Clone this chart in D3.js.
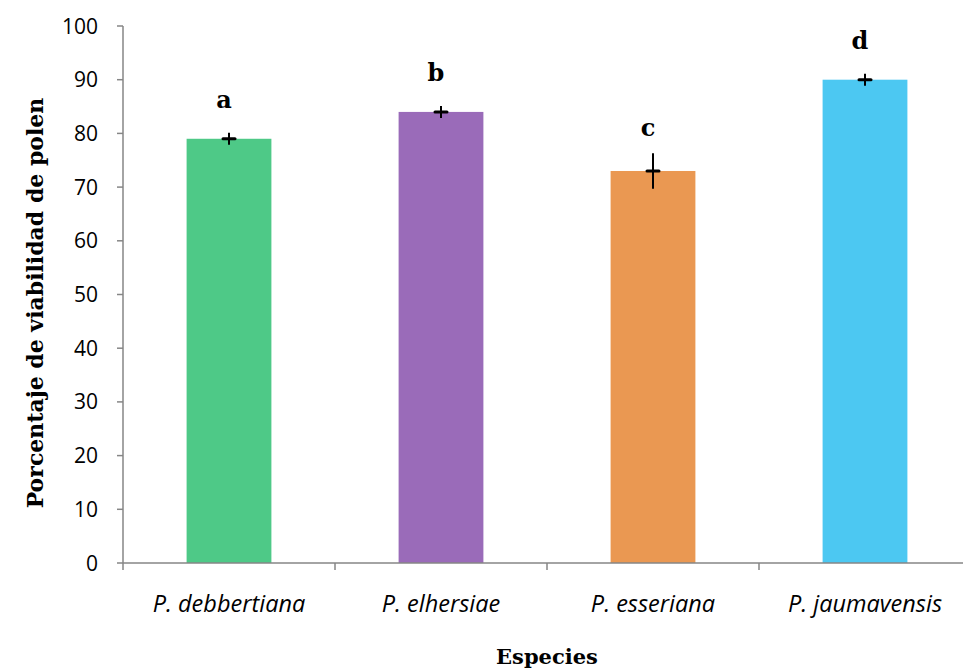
<!DOCTYPE html>
<html>
<head>
<meta charset="utf-8">
<script src="https://cdn.jsdelivr.net/npm/d3@7"></script>
<style>
  body { margin: 0; background: #fff; overflow: hidden; }
  svg { display: block; }
</style>
</head>
<body>
<script>
// Pollen viability by species
const species = ['P. debbertiana', 'P. elhersiae', 'P. esseriana', 'P. jaumavensis']
const viability = [79, 84, 73, 90]
const errors = [0.5, 0.4, 3.3, 0.3]
const letters = ['a', 'b', 'c', 'd']
const colors = ['#4EC987', '#9A6BB9', '#EA9852', '#4CC8F2']
const yTicks = [0, 10, 20, 30, 40, 50, 60, 70, 80, 90, 100]

const width = 963, height = 670
const margin = { top: 26, right: -8, bottom: 107, left: 123 }
const innerWidth = width - margin.left - margin.right
const innerHeight = height - margin.top - margin.bottom

const svg = d3.select('body').append('svg')
  .attr('width', width).attr('height', height)

const g = svg.append('g')
  .attr('transform', `translate(${margin.left}, ${margin.top})`)

const x = d3.scaleBand().domain(species).range([0, innerWidth]).paddingInner(0.6).paddingOuter(0.3)
const band = d3.scaleBand().domain(species).range([0, innerWidth])
const y = d3.scaleLinear().domain([0, 100]).range([innerHeight, 0])

// Bars
g.selectAll('rect.bar').data(species).join('rect')
  .attr('class', 'bar')
  .attr('x', d => x(d)).attr('y', (d, i) => y(viability[i]))
  .attr('width', x.bandwidth()).attr('height', (d, i) => innerHeight - y(viability[i]))
  .attr('fill', (d, i) => colors[i])

// Y axis
g.append('line').attr('x1', 0).attr('x2', 0).attr('y1', 0).attr('y2', innerHeight)
  .attr('stroke', '#868686').attr('stroke-width', 1.5)
yTicks.forEach(t => {
  g.append('line').attr('x1', -6).attr('x2', 0).attr('y1', y(t)).attr('y2', y(t))
    .attr('stroke', '#868686').attr('stroke-width', 1.5)
  g.append('text').attr('x', -25).attr('y', y(t)).attr('dy', '0.36em')
    .attr('text-anchor', 'end').attr('font-family', 'Open Sans, sans-serif')
    .attr('font-size', '21px').attr('fill', '#000').text(t)
})

// X axis
g.append('line').attr('x1', 0).attr('x2', innerWidth).attr('y1', innerHeight).attr('y2', innerHeight)
  .attr('stroke', '#868686').attr('stroke-width', 1.5)
species.concat([null]).forEach((d, i) => {
  const tx = i * band.bandwidth()
  g.append('line').attr('x1', tx).attr('x2', tx).attr('y1', innerHeight).attr('y2', innerHeight + 7)
    .attr('stroke', '#868686').attr('stroke-width', 1.5)
})
species.forEach(d => {
  g.append('text').attr('x', x(d) + x.bandwidth() / 2).attr('y', innerHeight + 49)
    .attr('text-anchor', 'middle').attr('font-family', 'Open Sans, sans-serif')
    .attr('font-style', 'italic').attr('font-size', '23.5px').attr('fill', '#000').text(d)
})

// Error bars
species.forEach((d, i) => {
  const cx = x(d) + x.bandwidth() / 2
  g.append('line').attr('x1', cx).attr('x2', cx)
    .attr('y1', Math.min(y(viability[i] + errors[i]), y(viability[i]) - 6))
    .attr('y2', Math.max(y(viability[i] - errors[i]), y(viability[i]) + 6))
    .attr('stroke', '#000').attr('stroke-width', 2)
  g.append('line').attr('x1', cx - 6).attr('x2', cx + 6).attr('y1', y(viability[i])).attr('y2', y(viability[i]))
    .attr('stroke', '#000').attr('stroke-width', 3).attr('stroke-linecap', 'round')
})

// Significance letters
species.forEach((d, i) => {
  const ly = Math.min(y(viability[i]) - 31, y(viability[i] + errors[i]) - 17)
  g.append('text').attr('x', x(d) + x.bandwidth() / 2 - 5).attr('y', ly)
    .attr('text-anchor', 'middle').attr('font-family', 'DejaVu Serif, serif')
    .attr('font-weight', 'bold').attr('font-size', '24px').attr('fill', '#000').text(letters[i])
})

// Axis titles
svg.append('text').attr('transform', 'translate(43, 303) rotate(-90)')
  .attr('text-anchor', 'middle').attr('font-family', 'DejaVu Serif, serif')
  .attr('font-weight', 'bold').attr('font-size', '22px').text('Porcentaje de viabilidad de polen')
svg.append('text').attr('x', margin.left + 2 * band.bandwidth()).attr('y', 664)
  .attr('text-anchor', 'middle').attr('font-family', 'DejaVu Serif, serif')
  .attr('font-weight', 'bold').attr('font-size', '21px').text('Especies')
</script>
</body>
</html>
